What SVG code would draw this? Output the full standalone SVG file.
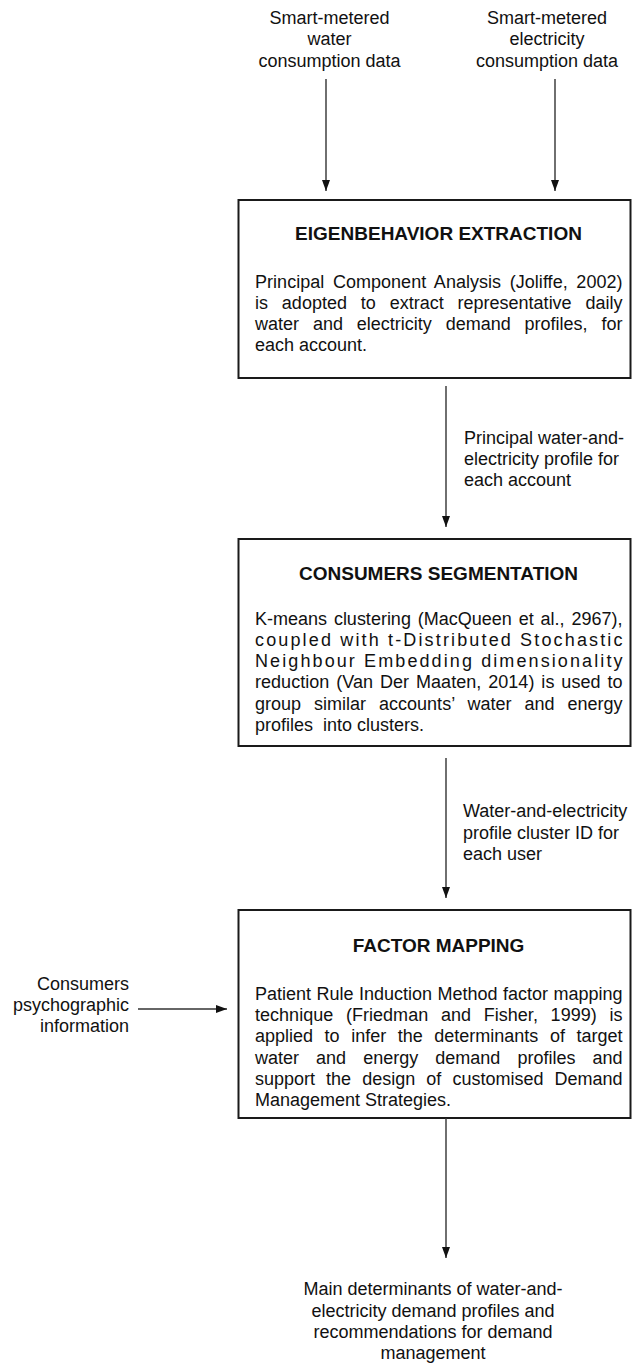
<svg xmlns="http://www.w3.org/2000/svg" width="633" height="1363" viewBox="0 0 633 1363">
  <style>
    text { font-family: "Liberation Sans", Arial, Helvetica, sans-serif; font-size: 18px; fill: #111; }
    .title { font-weight: bold; font-size: 19px; text-anchor: middle; }
    .mid { text-anchor: middle; }
    .end { text-anchor: end; }
    .box { fill: #fff; stroke: #1a1a1a; stroke-width: 2; }
    .flow { stroke: #333; stroke-width: 1.4; fill: none; marker-end: url(#head); }
    .pre { white-space: pre; }
  </style>
  <defs>
    <!-- filled triangular arrowhead, tip at the line end -->
    <marker id="head" markerUnits="userSpaceOnUse" markerWidth="11" markerHeight="8" viewBox="0 0 11 8" refX="11" refY="4" orient="auto">
      <path d="M0,0 L11,4 L0,8 Z" fill="#111"/>
    </marker>
  </defs>
  <rect width="633" height="1363" fill="#fff"/>

  <!-- data sources -->
  <g id="src-water">
    <text class="mid" x="329.5" y="23.5">Smart-metered</text>
    <text class="mid" x="329.5" y="45">water</text>
    <text class="mid" x="329.5" y="66.5">consumption data</text>
  </g>
  <g id="src-electricity">
    <text class="mid" x="547" y="23.5">Smart-metered</text>
    <text class="mid" x="547" y="45">electricity</text>
    <text class="mid" x="547" y="66.5">consumption data</text>
  </g>

  <!-- step 1 -->
  <g id="eigenbehavior">
    <rect class="box" x="238.5" y="200" width="392" height="178"/>
    <text class="title" x="438.5" y="239.5">EIGENBEHAVIOR EXTRACTION</text>
    <text x="255" y="287.5" word-spacing="3.6" textLength="367.5" lengthAdjust="spacing">Principal Component Analysis (Joliffe, 2002)</text>
    <text x="255" y="308.8" word-spacing="8.87" textLength="367.5" lengthAdjust="spacing">is adopted to extract representative daily</text>
    <text x="255" y="330.1" word-spacing="8.87" textLength="367.5" lengthAdjust="spacing">water and electricity demand profiles, for</text>
    <text x="255" y="351.4">each account.</text>
  </g>

  <!-- step 2 -->
  <g id="segmentation">
    <rect class="box" x="238.5" y="539" width="392" height="207"/>
    <text class="title" x="438.5" y="579.5">CONSUMERS SEGMENTATION</text>
    <text x="255" y="624.5" word-spacing="1.88" textLength="367.5" lengthAdjust="spacing">K-means clustering (MacQueen et al., 2967),</text>
    <text x="255" y="645.8" textLength="367.5" lengthAdjust="spacing">coupled with t-Distributed Stochastic</text>
    <text x="255" y="667.1" textLength="367.5" lengthAdjust="spacing">Neighbour Embedding dimensionality</text>
    <text x="255" y="688.4" word-spacing="1.9" textLength="367.5" lengthAdjust="spacing">reduction (Van Der Maaten, 2014) is used to</text>
    <text x="255" y="709.7" word-spacing="7.9" textLength="367.5" lengthAdjust="spacing">group similar accounts’ water and energy</text>
    <text class="pre" x="255" y="731">profiles  into clusters.</text>
  </g>

  <!-- step 3 -->
  <g id="factor-mapping">
    <rect class="box" x="238.5" y="910" width="392" height="208"/>
    <text class="title" x="438.5" y="951.5">FACTOR MAPPING</text>
    <text x="255" y="1000" word-spacing="0.46" textLength="367.5" lengthAdjust="spacing">Patient Rule Induction Method factor mapping</text>
    <text x="255" y="1021.2" word-spacing="7.68" textLength="367.5" lengthAdjust="spacing">technique (Friedman and Fisher, 1999) is</text>
    <text x="255" y="1042.4" word-spacing="6.55" textLength="367.5" lengthAdjust="spacing">applied to infer the determinants of target</text>
    <text x="255" y="1063.6" word-spacing="12.07" textLength="367.5" lengthAdjust="spacing">water and energy demand profiles and</text>
    <text x="255" y="1084.8" word-spacing="6.07" textLength="367.5" lengthAdjust="spacing">support the design of customised Demand</text>
    <text x="255" y="1106">Management Strategies.</text>
  </g>

  <!-- side input -->
  <g id="psychographic">
    <text class="end" x="129" y="990">Consumers</text>
    <text class="end" x="129" y="1011">psychographic</text>
    <text class="end" x="129" y="1032">information</text>
  </g>

  <!-- final output -->
  <g id="determinants">
    <text class="mid" x="433" y="1295">Main determinants of water-and-</text>
    <text class="mid" x="433" y="1316.5">electricity demand profiles and</text>
    <text class="mid" x="433" y="1338">recommendations for demand</text>
    <text class="mid" x="433" y="1359">management</text>
  </g>

  <!-- connectors and their labels -->
  <g id="connectors">
    <line class="flow" x1="326" y1="79" x2="326" y2="191"/>
    <line class="flow" x1="555" y1="79" x2="555" y2="191"/>
    <line class="flow" x1="446" y1="386" x2="446" y2="527"/>
    <line class="flow" x1="446" y1="758" x2="446" y2="898"/>
    <line class="flow" x1="446" y1="1118" x2="446" y2="1258"/>
    <line class="flow" x1="138" y1="1009" x2="227" y2="1009"/>
    <text x="464" y="444">Principal water-and-</text>
    <text x="464" y="465">electricity profile for</text>
    <text x="464" y="486">each account</text>
    <text x="463" y="817">Water-and-electricity</text>
    <text x="463" y="838.5">profile cluster ID for</text>
    <text x="463" y="860">each user</text>
  </g>
</svg>
